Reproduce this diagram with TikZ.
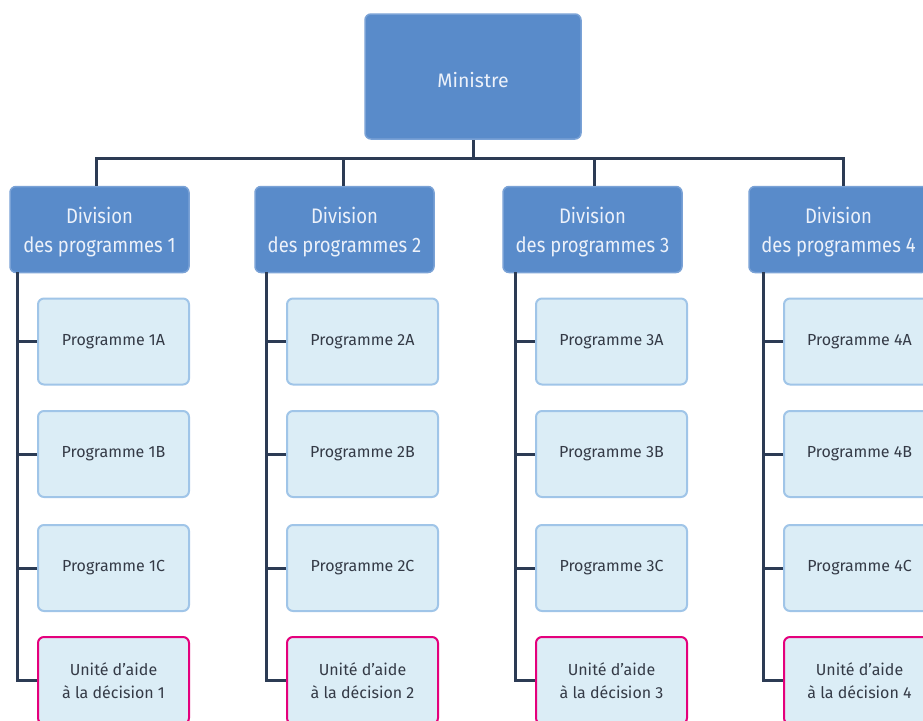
\documentclass[tikz,border=0pt]{standalone}
\usepackage{fontspec}
\setmainfont{Fira Sans}
\newfontfamily\divfont[FakeStretch=0.88]{Fira Sans}
\usetikzlibrary{calc}
\definecolor{bluefill}{RGB}{89,139,202}
\definecolor{blueline}{RGB}{122,162,214}
\definecolor{bluetext}{RGB}{236,241,250}
\definecolor{lightfill}{RGB}{219,237,246}
\definecolor{lightline}{RGB}{160,197,232}
\definecolor{magentaline}{RGB}{228,0,124}
\definecolor{darktext}{RGB}{52,58,70}
\definecolor{conn}{RGB}{44,59,84}
\tikzset{
  topbox/.style={draw=blueline, line width=1.5pt, fill=bluefill, rounded corners=6pt,
    text=bluetext, font=\divfont\fontsize{21}{29}\selectfont, align=center, inner sep=0pt},
  progbox/.style={draw=lightline, line width=2pt, fill=lightfill, rounded corners=6pt,
    text=darktext, font=\fontsize{16}{23.5}\selectfont, align=center, inner sep=0pt,
    minimum width=151pt, minimum height=86pt},
  unitbox/.style={progbox, draw=magentaline},
  link/.style={draw=conn, line width=3pt},
}
\begin{document}
\begin{tikzpicture}[x=1pt,y=-1pt]
\useasboundingbox (0,0) rectangle (923,720);
\clip (0,0) rectangle (923,720);
\fill[white] (0,0) rectangle (923,720);
% Ministre
\node[topbox, minimum width=216pt, minimum height=125pt, text height=22pt,
  font=\fontsize{19.5}{26}\selectfont] (min) at (473,76.5) {Ministre};
% bus
\coordinate (bus) at (473,158.5);
\foreach \i/\dx/\sx/\bx in {1/99.5/96/38, 2/344.5/343/287, 3/592.5/594/536, 4/838.5/843/784} {
  \node[topbox, minimum width=179pt, minimum height=86pt, text height=50pt] (d\i) at (\dx,229.5)
    {Division\\des programmes \i};
  \coordinate (s\i) at (\sx,158.5);
  \coordinate (v\i) at ({\bx-21},272);
  \node[progbox] (p\i a) at ({\bx+75.5},341.5) {Programme \i A};
  \node[progbox] (p\i b) at ({\bx+75.5},454) {Programme \i B};
  \node[progbox] (p\i c) at ({\bx+75.5},568) {Programme \i C};
  \node[unitbox, minimum height=87pt] (u\i) at ({\bx+75.5},680.5) {Unité d’aide\\à la décision \i};
}
% connectors
\draw[link] (min.south) -- (bus);
\draw[link] (s1 |- d1.north) -- (s1) -- (s4) -- (s4 |- d4.north);
\foreach \i in {2,3} {
  \draw[link] (s\i) -- (s\i |- d\i.north);
}
\foreach \i in {1,2,3,4} {
  \draw[link] (v\i) |- (u\i.west);
  \draw[link] (p\i a.west) -- (p\i a.west -| v\i);
  \draw[link] (p\i b.west) -- (p\i b.west -| v\i);
  \draw[link] (p\i c.west) -- (p\i c.west -| v\i);
}
\end{tikzpicture}
\end{document}
